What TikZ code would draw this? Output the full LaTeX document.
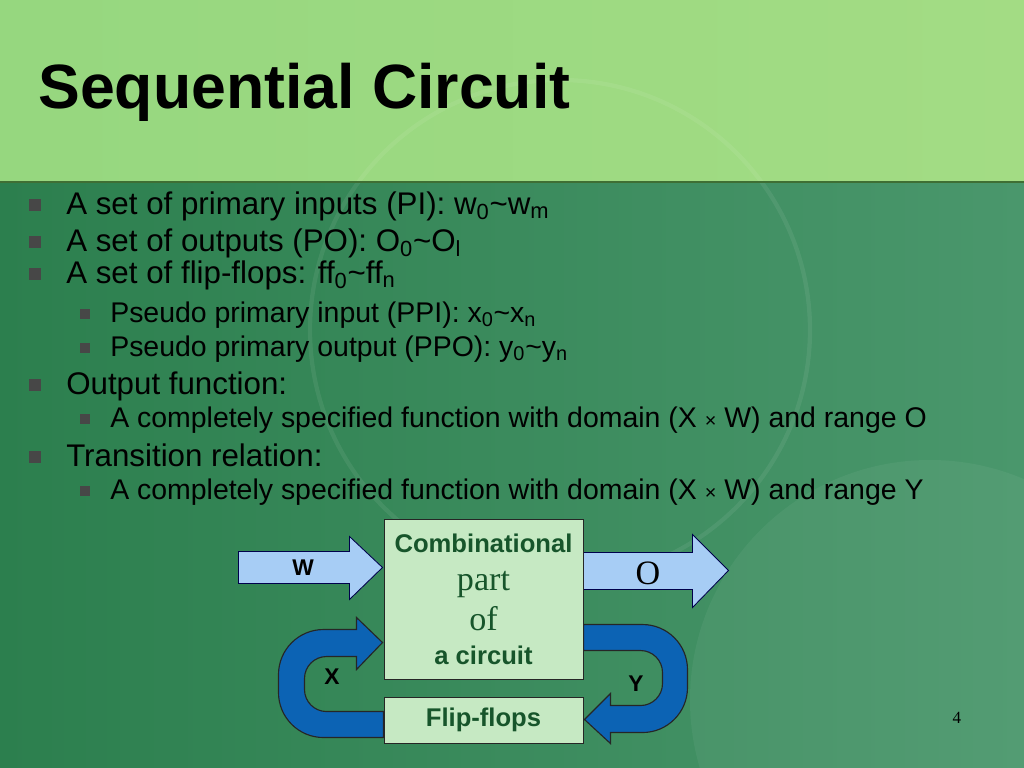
\documentclass[tikz,border=0pt]{standalone}
\usepackage{fontspec}
\setmainfont{Liberation Sans}
\newfontfamily\bodyfont{Liberation Sans}
\newfontfamily\titlefont{Liberation Sans}
\newfontfamily\romfont{Liberation Serif}
\usetikzlibrary{positioning}

\definecolor{bandleft}{HTML}{96D77F}
\definecolor{bandright}{HTML}{A3DC84}
\definecolor{greenleft}{HTML}{2C7F4E}
\definecolor{greenright}{HTML}{4A976C}
\definecolor{sepline}{HTML}{3F6F34}
\definecolor{boxgreen}{HTML}{C6E9C3}
\definecolor{darkgreen}{HTML}{17552B}
\definecolor{paleblue}{HTML}{A7CDF5}
\definecolor{deepblue}{HTML}{0C63B4}

\pgfdeclarelayer{back}
\pgfdeclarelayer{under}
\pgfsetlayers{back,under,main}

\tikzset{
  ttl/.style={anchor=base west,inner sep=0pt,font=\titlefont\bfseries\fontsize{44}{50}\selectfont},
  lone/.style={anchor=base west,inner sep=0pt,font=\bodyfont\fontsize{22}{26}\selectfont},
  ltwo/.style={anchor=base west,inner sep=0pt,font=\bodyfont\fontsize{20}{24}\selectfont},
  bone/.style={fill=black!72,inner sep=0pt,minimum size=8.5pt},
  btwo/.style={fill=black!72,inner sep=0pt,minimum size=7.5pt},
  blk/.style={draw=black!85,fill=boxgreen,line width=0.7pt,inner sep=0pt,minimum width=139.9pt},
  sanslbl/.style={anchor=base,inner sep=0pt,text=darkgreen,font=\bfseries\fontsize{18}{20}\selectfont},
  romlbl/.style={anchor=base,inner sep=0pt,text=darkgreen,font=\romfont\fontsize{24}{26}\selectfont},
  tag/.style={inner sep=0pt,font=\bfseries\fontsize{16}{18}\selectfont},
  flatarr/.style={fill=paleblue,draw=black!70!blue,line width=0.6pt},
  looparr/.style={fill=deepblue,draw=black!85,line width=0.8pt},
}

\begin{document}
\begin{tikzpicture}[x=0.703pt,y=-0.703pt]
\useasboundingbox (0,0) rectangle (1024,768);

\begin{pgfonlayer}{back}
  \shade[left color=bandleft,right color=bandright] (0,0) rectangle (1024,182);
  \shade[left color=greenleft,right color=greenright] (0,182) rectangle (1024,768);
  \draw[white,opacity=0.07,line width=3pt] (560,330) circle (250);
  \fill[white,opacity=0.05] (930,700) circle (240);
  \draw[sepline,line width=1.5pt] (0,182) -- (1024,182);
\end{pgfonlayer}

\node[ttl] (title) at (38,108) {Sequential Circuit};

% bullet list
\node[bone] (b1) at (35,205) {};
\node[lone] (t1) at (66,214) {A set of primary inputs (PI): w\textsubscript{0}\textasciitilde w\textsubscript{m}};
\node[bone] (b2) at (35,242) {};
\node[lone] (t2) at (66,251) {A set of outputs (PO): O\textsubscript{0}\textasciitilde O\textsubscript{l}};
\node[bone] (b3) at (35,274) {};
\node[lone] (t3) at (66,283) {A set of flip-flops: ff\textsubscript{0}\textasciitilde ff\textsubscript{n}};
\node[btwo] (b4) at (85,314) {};
\node[ltwo] (t4) at (110,322) {Pseudo primary input (PPI): x\textsubscript{0}\textasciitilde x\textsubscript{n}};
\node[btwo] (b5) at (85,348) {};
\node[ltwo] (t5) at (110,356) {Pseudo primary output (PPO): y\textsubscript{0}\textasciitilde y\textsubscript{n}};
\node[bone] (b6) at (35,385) {};
\node[lone] (t6) at (66,394) {Output function:};
\node[btwo] (b7) at (85,419) {};
\node[ltwo] (t7) at (110,427) {A completely specified function with domain (X {\fontsize{14}{16}\selectfont×} W) and range O};
\node[bone] (b8) at (35,457) {};
\node[lone] (t8) at (66,466) {Transition relation:};
\node[btwo] (b9) at (85,491) {};
\node[ltwo] (t9) at (110,499) {A completely specified function with domain (X {\fontsize{14}{16}\selectfont×} W) and range Y};

% circuit
\node[blk,minimum height=111.8pt] (comb) at (483.5,599.5) {};
\node[blk,minimum height=32.3pt,below=12pt of comb] (ff) {};
\node[sanslbl] (c1) at (483.5,552) {Combinational};
\node[romlbl] (c2) at (483.5,590) {part};
\node[romlbl] (c3) at (483.5,630) {of};
\node[sanslbl] (c4) at (483.5,664) {a circuit};
\node[sanslbl] (ffl) at (483.5,726) {Flip-flops};

\begin{pgfonlayer}{under}
  \begin{scope}[shift={(comb.north west)}]
    \draw[flatarr] (-145,32) -- (-34,32) -- (-34,17) -- (-1,48) -- (-34,80) -- (-34,64) -- (-145,64) -- cycle;
  \end{scope}
  \begin{scope}[shift={(comb.north east)}]
    \draw[flatarr] (0,33) -- (109,33) -- (109,15) -- (145,51) -- (109,88) -- (109,70) -- (0,70) -- cycle;
  \end{scope}
  % X: flip-flops back into the combinational part
  \begin{scope}[shift={(ff.south west)}]
    \draw[looparr] (0,-6) -- (-60,-6) arc[start angle=90,end angle=180,radius=45]
      -- (-105,-69) arc[start angle=180,end angle=270,radius=45]
      -- (-27,-114) -- (-27,-126) -- (-1,-101) -- (-27,-74) -- (-27,-87)
      -- (-57,-87) arc[start angle=270,end angle=180,radius=22]
      -- (-79,-54) arc[start angle=180,end angle=90,radius=22]
      -- (0,-32) -- cycle;
  \end{scope}
  % Y: combinational part into the flip-flops
  \begin{scope}[shift={(ff.south east)}]
    \draw[looparr] (0,-119) -- (59,-119) arc[start angle=270,end angle=360,radius=45]
      -- (104,-56) arc[start angle=0,end angle=90,radius=45]
      -- (27,-11) -- (27,0) -- (1,-24) -- (27,-50) -- (27,-38)
      -- (57,-38) arc[start angle=90,end angle=0,radius=22]
      -- (79,-71) arc[start angle=0,end angle=-90,radius=22]
      -- (0,-93) -- cycle;
  \end{scope}
\end{pgfonlayer}

\node[tag] (wl) at (303,568) {W};
\node[romlbl,text=black,anchor=center] (ol) at (648,573) {O};
\node[tag] (xl) at (332,677) {X};
\node[tag] (yl) at (636,684) {Y};

\node[inner sep=0pt,font=\romfont\fontsize{12}{14}\selectfont] (pg) at (957,718) {4};
\end{tikzpicture}
\end{document}
